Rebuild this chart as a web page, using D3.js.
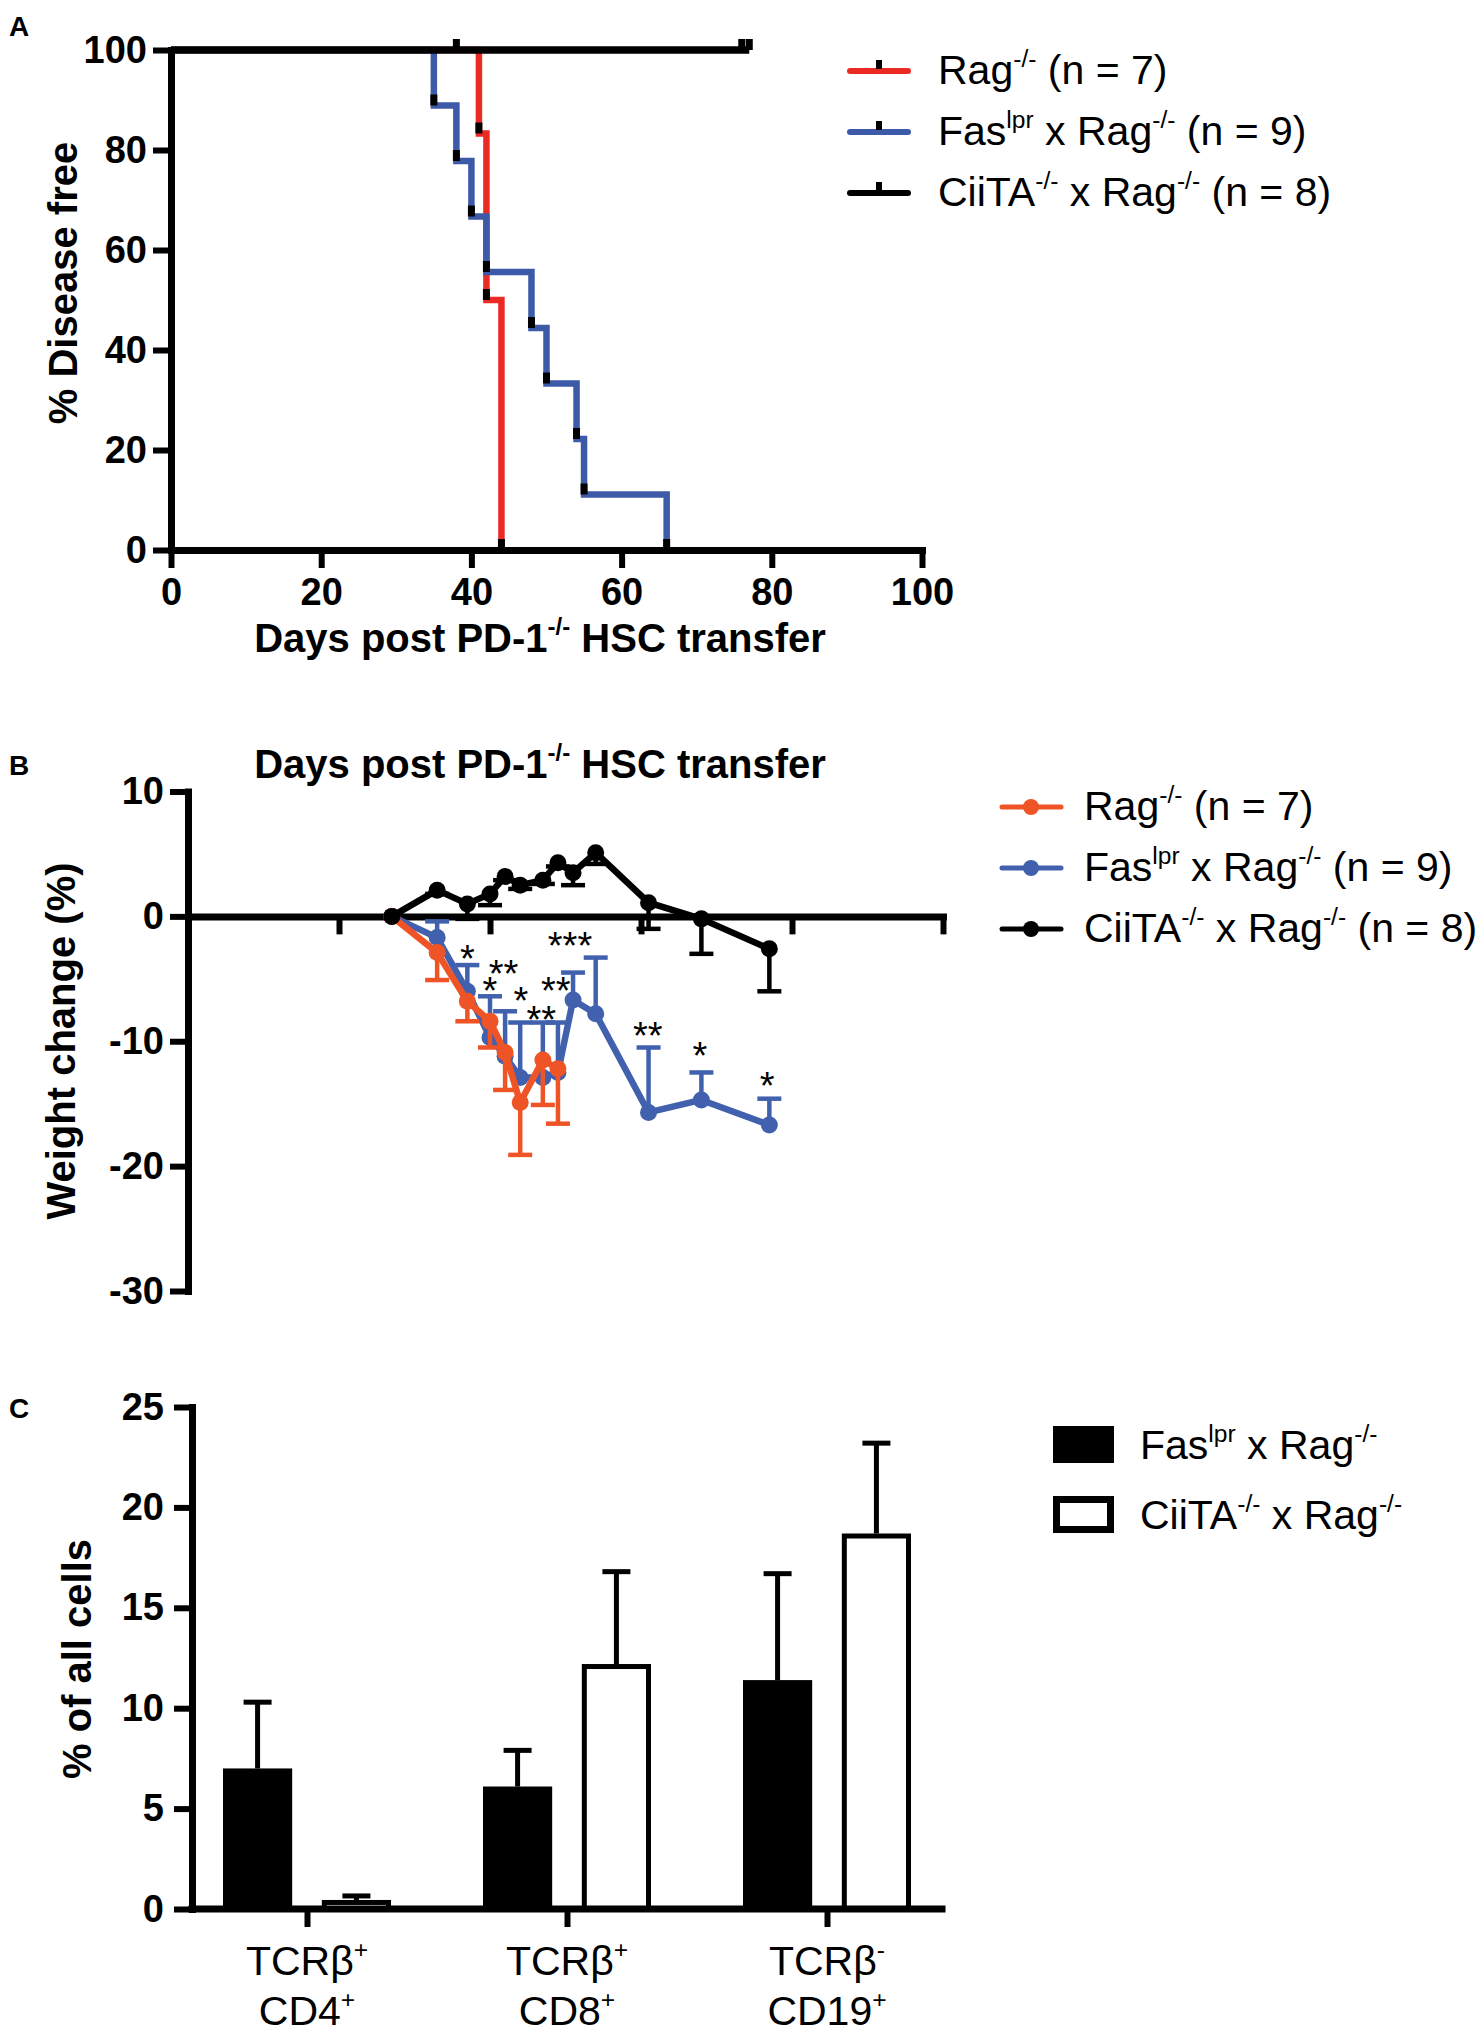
<!DOCTYPE html>
<html>
<head>
<meta charset="utf-8">
<script src="https://cdn.jsdelivr.net/npm/d3@7"></script>
<style>
  body { margin: 0; background: #fff; }
  svg { display: block; }
  text { font-family: "Liberation Sans", Arial, Helvetica, sans-serif; white-space: pre; }
</style>
</head>
<body>
<div id="fig"></div>
<script>
// ---- panel A: disease free survival ----
let survivalLabels = ["Rag^{-/-} (n = 7)", "Fas^{lpr} x Rag^{-/-} (n = 9)", "CiiTA^{-/-} x Rag^{-/-} (n = 8)"];
let ragSurvDays = [0, 41, 42, 44];
let ragSurvPct = [100, 83.3, 50, 0];
let fasSurvDays = [0, 35, 38, 40, 42, 48, 50, 54, 55, 66];
let fasSurvPct = [100, 88.9, 77.8, 66.7, 55.6, 44.4, 33.3, 22.2, 11.1, 0];
let ciitaSurvDays = [0, 77];
let ciitaSurvPct = [100, 100];
let ciitaCensorDays = [38, 76, 77];
let survTicksX = [0, 20, 40, 60, 80, 100];
let survTicksY = [0, 20, 40, 60, 80, 100];

// ---- panel B: weight change ----
let weightDays = [27, 33, 37, 40, 42, 44, 47, 49, 51, 54, 61, 68, 77];
let ragWeight = [0, -2.9, -6.8, -8.4, -10.9, -14.9, -11.5, -12.2];
let ragWeightErr = [0, 2.2, 1.6, 2.1, 3.0, 4.2, 3.6, 4.4];
let fasWeight = [0, -1.7, -6.0, -9.7, -11.2, -12.9, -12.9, -12.5, -6.7, -7.8, -15.7, -14.7, -16.7];
let fasWeightErr = [0, 1.3, 2.1, 3.3, 3.6, 4.4, 4.4, 4.0, 2.2, 4.5, 5.2, 2.2, 2.1];
let ciitaWeight = [0, 2.1, 1.0, 1.8, 3.2, 2.5, 2.9, 4.3, 3.5, 5.1, 1.1, -0.2, -2.6];
let ciitaWeightErr = [0, 0.3, 1.2, 0.9, 0.3, 0.3, 0.3, 0.3, 1.0, 0.9, 2.1, 2.8, 3.4];
let sigDays = [37, 41.8, 40, 44.1, 48.7, 46.8, 50.6, 60.9, 67.8, 76.7];
let sigValues = [-2.7, -3.9, -5.3, -6.1, -5.3, -7.6, -1.7, -8.85, -10.5, -12.9];
let sigLabels = ["*", "**", "*", "*", "**", "**", "***", "**", "*", "*"];
let weightTicksX = [20, 40, 60, 80, 100];
let weightTicksY = [-30, -20, -10, 0, 10];

// ---- panel C: cell populations ----
let cellTypes = ["CD4", "CD8", "CD19"];
let cellLabelTop = ["TCRβ^{+}", "TCRβ^{+}", "TCRβ^{-}"];
let cellLabelBottom = ["CD4^{+}", "CD8^{+}", "CD19^{+}"];
let cellGroups = ["Fas^{lpr} x Rag^{-/-}", "CiiTA^{-/-} x Rag^{-/-}"];
let fasCells = [7.0, 6.1, 11.4];
let fasCellsErr = [3.3, 1.8, 5.3];
let ciitaCells = [0.45, 12.2, 18.7];
let ciitaCellsErr = [0.2, 4.6, 4.5];
let cellTicksY = [0, 5, 10, 15, 20, 25];

let redA = "#ec2a24", blueA = "#3d5aa9";
let redB = "#ef5426", blueB = "#4161ae";

let svg = d3.select("#fig").append("svg")
    .attr("width", 1477)
    .attr("height", 2036);

// text with ^{...} superscripts
function rich(sel, str, fs) {
    let parts = str.split(/(\^\{[^}]*\})/).filter(function(s){ return s.length; });
    let up = false;
    parts.forEach(function(p) {
        let sup = p.indexOf("^{") == 0;
        let t = sel.append("tspan").text(sup ? p.slice(2, -1) : p);
        if (sup) { t.attr("font-size", fs*0.6).attr("dy", -fs*0.42); up = true; }
        else if (up) { t.attr("dy", fs*0.42); up = false; }
    });
    return sel;
}

function styleAxis(g) {
    g.attr("font-family", null).attr("font-size", null);
    g.select(".domain").attr("stroke-width", 7).attr("stroke-linecap", "square");
    g.selectAll(".tick line").attr("stroke-width", 6);
    g.selectAll(".tick text")
        .attr("font-size", 38)
        .attr("font-weight", "bold")
        .attr("fill", "#000");
}

function panelLetter(letter, y) {
    svg.append("text").attr("x", 9).attr("y", y)
        .attr("font-size", 28).attr("font-weight", "bold").text(letter);
}

function yTitle(str, x, y) {
    svg.append("text")
        .attr("transform", "translate(" + x + "," + y + ") rotate(-90)")
        .attr("text-anchor", "middle")
        .attr("font-size", 40)
        .attr("font-weight", "bold")
        .text(str);
}

// =================== A ===================
panelLetter("A", 36);

let xA = d3.scaleLinear().domain([0, 100]).range([171, 922]);
let yA = d3.scaleLinear().domain([0, 100]).range([550, 50]);

svg.append("g")
    .attr("transform", "translate(0," + yA(0) + ")")
    .call(d3.axisBottom(xA).tickValues(survTicksX).tickSize(18).tickSizeOuter(0).tickPadding(10))
    .call(styleAxis);
svg.append("g")
    .attr("transform", "translate(" + xA(0) + ",0)")
    .call(d3.axisLeft(yA).tickValues(survTicksY).tickSize(18).tickSizeOuter(0).tickPadding(6))
    .call(styleAxis);

yTitle("% Disease free", 77, 283);
rich(svg.append("text").attr("x", 540).attr("y", 652).attr("text-anchor", "middle")
    .attr("font-size", 40).attr("font-weight", "bold"), "Days post PD-1^{-/-} HSC transfer", 40);

let stepLine = d3.line()
    .x(function(d){ return xA(d[0]); })
    .y(function(d){ return yA(d[1]); })
    .curve(d3.curveStepAfter);

let survSeries = [
    {days: ragSurvDays, pct: ragSurvPct, color: redA, w: 6.5},
    {days: fasSurvDays, pct: fasSurvPct, color: blueA, w: 6.5},
    {days: ciitaSurvDays, pct: ciitaSurvPct, color: "#000", w: 7.5}
];

survSeries.forEach(function(s) {
    let pts = s.days.map(function(d, i){ return [d, s.pct[i]]; });
    svg.append("path")
        .attr("d", stepLine(pts))
        .attr("fill", "none")
        .attr("stroke", s.color)
        .attr("stroke-width", s.w);
});

// censor / event ticks
function survTick(day, pct) {
    svg.append("rect")
        .attr("x", xA(day) - 3.5)
        .attr("y", yA(pct) - 11)
        .attr("width", 7)
        .attr("height", 11)
        .attr("fill", "#000");
}
survSeries.slice(0, 2).forEach(function(s) {
    s.days.forEach(function(d, i){ if (i > 0) survTick(d, s.pct[i]); });
});
ciitaCensorDays.forEach(function(d){ survTick(d, 100); });

// legend A
[redA, blueA, "#000"].forEach(function(c, i) {
    let y = 71 + i*61;
    svg.append("line").attr("x1", 850).attr("x2", 908).attr("y1", y).attr("y2", y)
        .attr("stroke", c).attr("stroke-width", 6).attr("stroke-linecap", "round");
    svg.append("rect").attr("x", 876).attr("y", y - 11).attr("width", 6).attr("height", 9).attr("fill", "#000");
    rich(svg.append("text").attr("x", 938).attr("y", y + 13).attr("font-size", 41), survivalLabels[i], 41);
});

// =================== B ===================
panelLetter("B", 775);

let xB = d3.scaleLinear().domain([0, 100]).range([188, 943]);
let yB = d3.scaleLinear().domain([-30, 10]).range([1291, 791.5]);

rich(svg.append("text").attr("x", 540).attr("y", 778).attr("text-anchor", "middle")
    .attr("font-size", 40).attr("font-weight", "bold"), "Days post PD-1^{-/-} HSC transfer", 40);

svg.append("g")
    .attr("transform", "translate(0," + yB(0) + ")")
    .call(d3.axisBottom(xB).tickValues(weightTicksX).tickSize(18).tickSizeOuter(0).tickFormat(""))
    .call(styleAxis);
svg.append("g")
    .attr("transform", "translate(" + xB(0) + ",0)")
    .call(d3.axisLeft(yB).tickValues(weightTicksY).tickSize(18).tickSizeOuter(0).tickPadding(6)
        .tickFormat(function(d){ return String(d); }))
    .call(styleAxis);

yTitle("Weight change (%)", 75, 1041);

let weightSeries = [
    {vals: fasWeight, err: fasWeightErr, dir: 1, color: blueB},
    {vals: ragWeight, err: ragWeightErr, dir: -1, color: redB},
    {vals: ciitaWeight, err: ciitaWeightErr, dir: -1, color: "#000"}
];

let wLine = d3.line()
    .x(function(d){ return xB(d.day); })
    .y(function(d){ return yB(d.v); });

weightSeries.forEach(function(s) {
    let pts = s.vals.map(function(v, i){ return {day: weightDays[i], v: v, e: s.err[i]}; });
    let g = svg.append("g");
    // error bars
    pts.forEach(function(p) {
        if (!p.e) return;
        let yEnd = yB(p.v + s.dir*p.e);
        g.append("line").attr("x1", xB(p.day)).attr("x2", xB(p.day))
            .attr("y1", yB(p.v)).attr("y2", yEnd)
            .attr("stroke", s.color).attr("stroke-width", 4.5);
        g.append("line").attr("x1", xB(p.day) - 12).attr("x2", xB(p.day) + 12)
            .attr("y1", yEnd).attr("y2", yEnd)
            .attr("stroke", s.color).attr("stroke-width", 4.5);
    });
    g.append("path")
        .attr("d", wLine(pts))
        .attr("fill", "none")
        .attr("stroke", s.color)
        .attr("stroke-width", 6.5)
        .attr("stroke-linejoin", "round");
    g.selectAll("circle")
        .data(pts)
        .enter().append("circle")
        .attr("cx", function(d){ return xB(d.day); })
        .attr("cy", function(d){ return yB(d.v); })
        .attr("r", 8.5)
        .attr("fill", s.color);
});

// significance stars
sigLabels.forEach(function(lab, i) {
    svg.append("text")
        .attr("x", xB(sigDays[i]))
        .attr("y", yB(sigValues[i]) + 0.575*38)
        .attr("text-anchor", "middle")
        .attr("font-size", 38)
        .text(lab);
});

// legend B
[redB, blueB, "#000"].forEach(function(c, i) {
    let y = 807 + i*61;
    svg.append("line").attr("x1", 1002).attr("x2", 1061).attr("y1", y).attr("y2", y)
        .attr("stroke", c).attr("stroke-width", 5).attr("stroke-linecap", "round");
    svg.append("circle").attr("cx", 1031).attr("cy", y).attr("r", 8).attr("fill", c);
    rich(svg.append("text").attr("x", 1084).attr("y", y + 13).attr("font-size", 41), survivalLabels[i], 41);
});

// =================== C ===================
panelLetter("C", 1418);

let xC = d3.scalePoint().domain(cellTypes).range([307, 827]);
let sub = d3.scaleBand().domain(["fas", "ciita"]).range([-84, 84]).paddingInner(0.3);
let yC = d3.scaleLinear().domain([0, 25]).range([1909, 1407]);

let cellSeries = [
    {key: "fas", vals: fasCells, err: fasCellsErr, fill: "#000"},
    {key: "ciita", vals: ciitaCells, err: ciitaCellsErr, fill: "#fff"}
];

cellSeries.forEach(function(s) {
    let g = svg.append("g");
    s.vals.forEach(function(v, i) {
        let x0 = xC(cellTypes[i]) + sub(s.key);
        let w = sub.bandwidth();
        let cx = x0 + w/2;
        let yEnd = yC(v + s.err[i]);
        g.append("line").attr("x1", cx).attr("x2", cx).attr("y1", yC(v)).attr("y2", yEnd)
            .attr("stroke", "#000").attr("stroke-width", 5);
        g.append("line").attr("x1", cx - 14).attr("x2", cx + 14).attr("y1", yEnd).attr("y2", yEnd)
            .attr("stroke", "#000").attr("stroke-width", 5);
        if (s.key == "fas") {
            g.append("rect").attr("x", x0).attr("y", yC(v))
                .attr("width", w).attr("height", yC(0) - yC(v)).attr("fill", "#000");
        } else {
            g.append("rect").attr("x", x0 + 2.5).attr("y", yC(v) + 2.5)
                .attr("width", w - 5).attr("height", Math.max(0, yC(0) - yC(v) - 2.5))
                .attr("fill", "#fff").attr("stroke", "#000").attr("stroke-width", 5);
        }
    });
});

let xAxisC = svg.append("g")
    .attr("transform", "translate(0," + yC(0) + ")")
    .call(d3.axisBottom(xC).tickSize(18).tickSizeOuter(0).tickFormat(""))
    .call(styleAxis);
xAxisC.select(".domain").remove();
svg.append("line").attr("x1", 192).attr("x2", 942).attr("y1", yC(0)).attr("y2", yC(0))
    .attr("stroke", "#000").attr("stroke-width", 7).attr("stroke-linecap", "square");

svg.append("g")
    .attr("transform", "translate(192,0)")
    .call(d3.axisLeft(yC).tickValues(cellTicksY).tickSize(18).tickSizeOuter(0).tickPadding(10))
    .call(styleAxis);

yTitle("% of all cells", 91, 1659);

cellTypes.forEach(function(c, i) {
    rich(svg.append("text").attr("x", xC(c)).attr("y", 1975).attr("text-anchor", "middle")
        .attr("font-size", 41), cellLabelTop[i], 41);
    rich(svg.append("text").attr("x", xC(c)).attr("y", 2025).attr("text-anchor", "middle")
        .attr("font-size", 41), cellLabelBottom[i], 41);
});

// legend C
cellSeries.forEach(function(s, i) {
    let y = 1426 + i*70;
    if (s.key == "fas") {
        svg.append("rect").attr("x", 1053).attr("y", y).attr("width", 61).attr("height", 37).attr("fill", "#000");
    } else {
        svg.append("rect").attr("x", 1056.5).attr("y", y + 3.5).attr("width", 54).attr("height", 30)
            .attr("fill", "#fff").attr("stroke", "#000").attr("stroke-width", 7);
    }
    rich(svg.append("text").attr("x", 1140).attr("y", y + 33).attr("font-size", 41), cellGroups[i], 41);
});
</script>
</body>
</html>
